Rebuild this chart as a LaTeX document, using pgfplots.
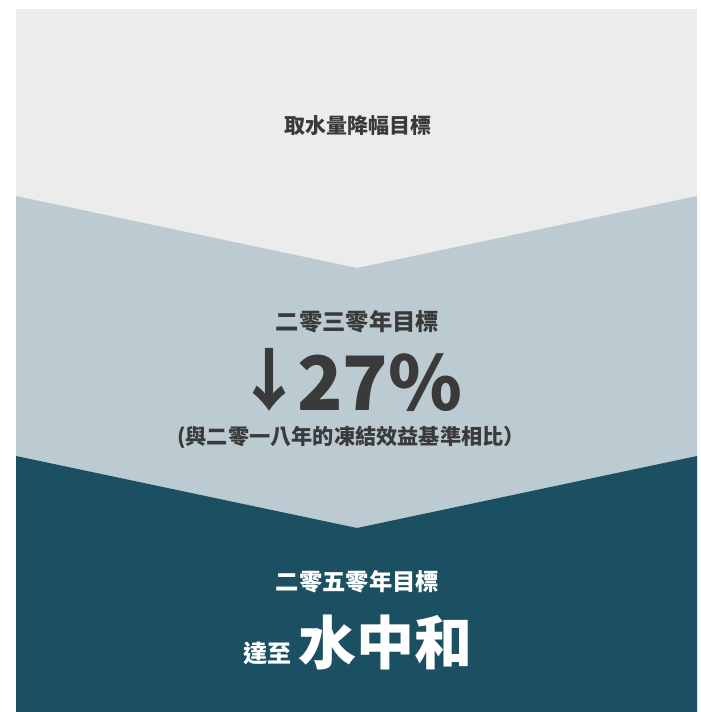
\documentclass[border=0pt]{standalone}
\usepackage{fontspec}
\setmainfont{Noto Sans CJK TC}
\usepackage{pgfplots}
\pgfplotsset{compat=1.18}
\definecolor{bgGray}{HTML}{ECECEC}
\definecolor{midBlue}{HTML}{BCCAD1}
\definecolor{darkTeal}{HTML}{1B4F62}
\definecolor{txtGray}{HTML}{3A3A3A}
\begin{document}
\begin{tikzpicture}
\begin{axis}[
  width=701pt, height=712pt, scale only axis,
  xmin=0, xmax=701, ymin=0, ymax=712, y dir=reverse,
  hide axis, clip=false]
% full canvas (white margin)
\addplot[fill=white, draw=none] coordinates {(0,0) (701,0) (701,712) (0,712)} -- cycle;
% background panels (pixel coordinates)
\addplot[fill=bgGray, draw=none] coordinates {(16,9) (697,9) (697,712) (16,712)} -- cycle;
\addplot[fill=midBlue, draw=none] coordinates {(16,196) (357,268) (697,196) (697,712) (16,712)} -- cycle;
\addplot[fill=darkTeal, draw=none] coordinates {(16,456) (357,528) (697,456) (697,712) (16,712)} -- cycle;
% texts
\node[text=txtGray, font=\fontsize{21}{25}\selectfont\bfseries, inner sep=0] at (axis cs:357.5,126) {取水量降幅目標};
\node[text=txtGray, font=\fontsize{23.3}{27}\selectfont\bfseries, inner sep=0] at (axis cs:357.5,322) {二零三零年目標};
\node[text=txtGray, font=\fontsize{68}{76}\selectfont\bfseries, inner sep=0] at (axis cs:269.5,380) {↓};
\node[text=txtGray, font=\fontsize{75}{84}\selectfont\bfseries, inner sep=0, anchor=base west] at (axis cs:297,410) {27\%};
\node[text=txtGray, font=\fontsize{21.2}{25}\selectfont\bfseries, inner sep=0] at (axis cs:351,438) {(與二零一八年的凍結效益基準相比）};
\node[text=white, font=\fontsize{23.3}{27}\selectfont\bfseries, inner sep=0] at (axis cs:357.5,582) {二零五零年目標};
\node[text=white, font=\fontsize{24}{28}\selectfont\bfseries, inner sep=0, anchor=base west] at (axis cs:243,662) {達至};
\node[text=white, font=\fontsize{58}{64}\selectfont\bfseries, inner sep=0, anchor=base west] at (axis cs:298,664) {水中和};
\end{axis}
\end{tikzpicture}
\end{document}
